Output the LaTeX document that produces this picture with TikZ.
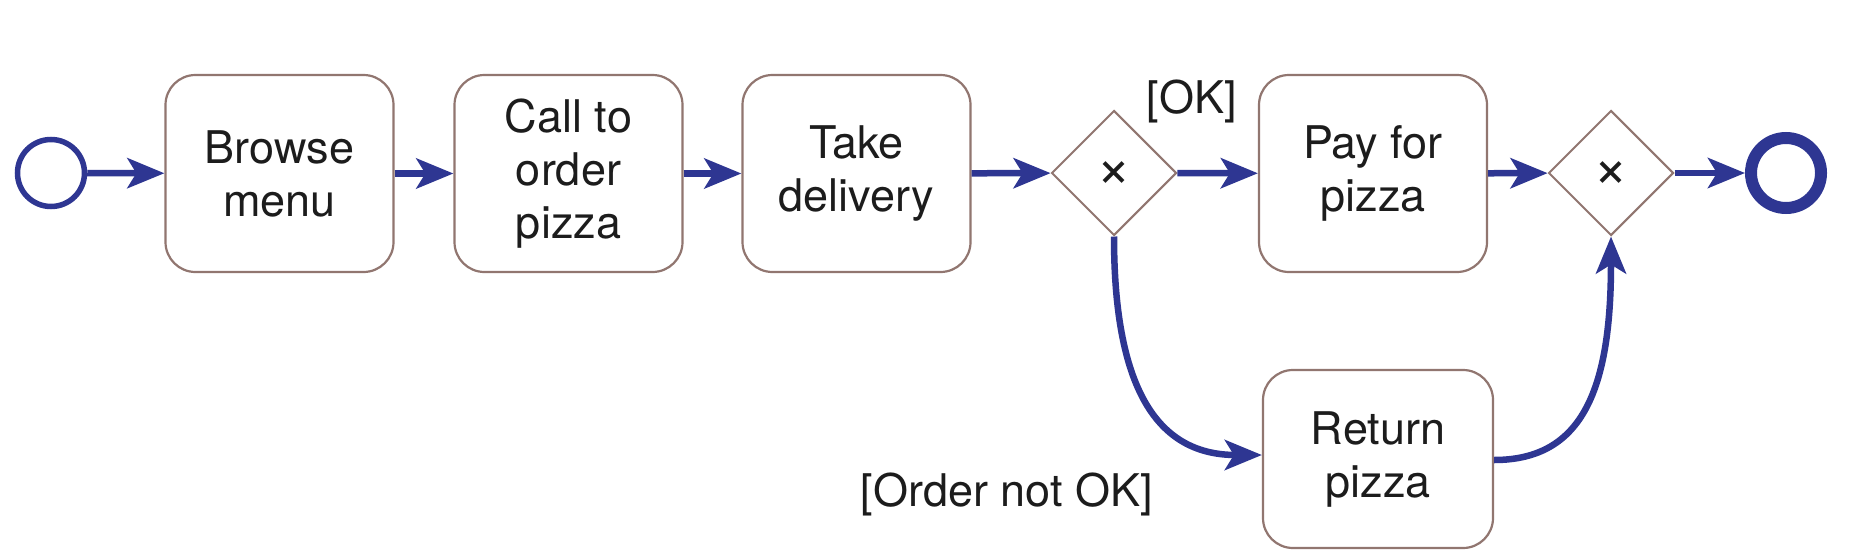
\documentclass[tikz,border=0pt]{standalone}
\usepackage{fontspec}
\setmainfont{TeX Gyre Heros}
\usetikzlibrary{shapes.geometric,arrows.meta}
\definecolor{flow}{RGB}{46,54,146}
\definecolor{boxline}{RGB}{145,118,112}
\definecolor{txt}{RGB}{28,28,28}
\begin{document}
\begin{tikzpicture}[x=1pt,y=-1pt,
  lab/.style={text=txt, font=\fontsize{45}{53}\selectfont},
  task/.style={lab, draw=boxline, line width=2.2pt, rounded corners=30pt,
    minimum width=228pt, minimum height=197pt, align=center, inner sep=0pt},
  gate/.style={draw=boxline, line width=2pt, diamond, aspect=1,
    minimum width=125pt, minimum height=125pt, inner sep=0pt},
  gatemark/.style={text=txt, font=\fontsize{60}{60}\selectfont, inner sep=0pt},
  flowarrow/.style={draw=flow, line width=6.5pt,
    -{Stealth[length=37pt,width=30pt,inset=9pt]}},
  event/.style={circle, draw=flow, inner sep=0pt, fill=white}]
\fill[white] (0,0) rectangle (1855,557);
\useasboundingbox (0,0) rectangle (1855,557);

\node[event, line width=5.5pt, minimum size=67pt] (start) at (51,173) {};
\node[task] (browse) at (279.5,173.5) {Browse\\menu};
\node[task] (call) at (568.5,173.5) {Call to\\order\\pizza};
\node[task] (take) at (856.5,173.5) {Take\\delivery};
\node[gate] (g1) at (1114,173) {};
\node[gatemark] (x1) at ([yshift=-2pt]g1.center) {×};
\node[task] (pay) at (1373,173.5) {Pay for\\pizza};
\node[gate] (g2) at (1611,173) {};
\node[gatemark] (x2) at ([yshift=-2pt]g2.center) {×};
\node[event, line width=12pt, minimum size=70pt] (end) at (1786,173) {};
\node[task, minimum width=230pt, minimum height=178pt] (ret) at (1378,459) {Return\\pizza};

\node[lab, inner sep=0pt] (ok) at (1192,101) {[OK]};
\node[lab, inner sep=0pt] (nok) at (1007,494) {[Order not OK]};

\draw[flowarrow] (start) -- (browse);
\draw[flowarrow] (browse) -- (call);
\draw[flowarrow] (call) -- (take);
\draw[flowarrow] (take) -- (g1);
\draw[flowarrow] (g1) -- (pay);
\draw[flowarrow] (pay) -- (g2);
\draw[flowarrow] (g2) -- (end);
\draw[flowarrow] (g1.south) .. controls +(0,160) and +(-100,0) .. ([yshift=4pt]ret.west);
\draw[flowarrow] ([yshift=-1pt]ret.east) .. controls +(90,0) and +(0,150) .. (g2.south);
\end{tikzpicture}
\end{document}
